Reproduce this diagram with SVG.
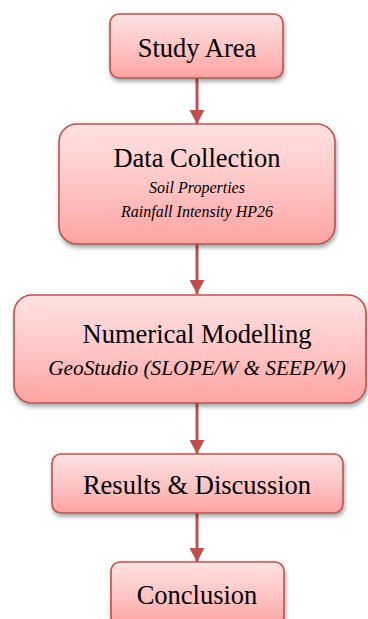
<svg xmlns="http://www.w3.org/2000/svg" width="368" height="619" viewBox="0 0 368 619">
<defs>
<linearGradient id="g" x1="0" y1="0" x2="0" y2="1">
<stop offset="0" stop-color="#FFE2E2"/>
<stop offset="0.5" stop-color="#FFC6C6"/>
<stop offset="1" stop-color="#FFA3A2"/>
</linearGradient>
<filter id="sh" x="-10%" y="-10%" width="120%" height="130%">
<feDropShadow dx="1" dy="3" stdDeviation="2" flood-color="#000" flood-opacity="0.35"/>
</filter>
<marker id="ah" markerWidth="16" markerHeight="15" refX="15" refY="8" orient="auto" markerUnits="userSpaceOnUse" viewBox="0 0 15 16">
<path d="M0,0 L15,8 L0,16 Z" fill="#C0504D"/>
</marker>
</defs>
<style>
.box{fill:url(#g);stroke:#C0504D;stroke-width:1.6;filter:url(#sh)}
.t{fill:#000;text-anchor:middle}
.m{font-size:26.5px}
.i{font-style:italic}
.conn line{stroke:#C0504D;stroke-width:3;marker-end:url(#ah)}
</style>
<g class="conn">
<line x1="197" y1="78" x2="197" y2="124"/>
<line x1="197" y1="244" x2="197" y2="294"/>
<line x1="197" y1="403" x2="197" y2="454"/>
<line x1="197" y1="513" x2="197" y2="562"/>
</g>
<g font-family="'Liberation Serif', serif">
<g id="study-area">
<rect class="box" x="110" y="14" width="173" height="64" rx="9"/>
<text class="t m" x="197" y="57">Study Area</text>
</g>
<g id="data-collection">
<rect class="box" x="59" y="124" width="276" height="120" rx="18"/>
<text class="t m" x="197" y="167">Data Collection</text>
<text class="t i" x="197" y="193" font-size="16">Soil Properties</text>
<text class="t i" x="197" y="217" font-size="16">Rainfall Intensity HP26</text>
</g>
<g id="numerical-modelling">
<rect class="box" x="14" y="295" width="352" height="108" rx="18"/>
<text class="t m" x="197" y="343">Numerical Modelling</text>
<text class="t i" x="197" y="375" font-size="21.3">GeoStudio (SLOPE/W &amp; SEEP/W)</text>
</g>
<g id="results">
<rect class="box" x="52" y="454" width="291" height="59" rx="9"/>
<text class="t m" x="197" y="494">Results &amp; Discussion</text>
</g>
<g id="conclusion">
<rect class="box" x="111" y="562" width="173" height="64" rx="9"/>
<text class="t m" x="197" y="604">Conclusion</text>
</g>
</g>
</svg>
